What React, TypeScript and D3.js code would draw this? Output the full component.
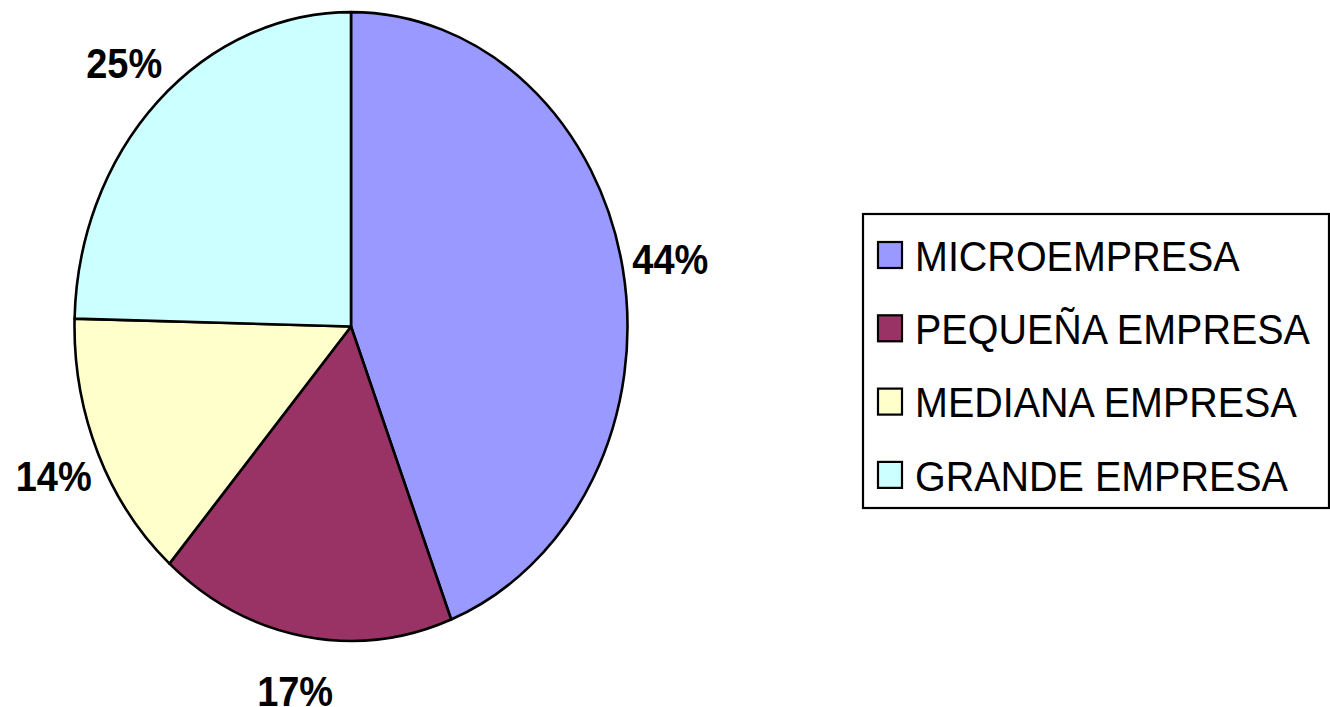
import React from "react";
import * as d3 from "d3";

const categories = ["MICROEMPRESA", "PEQUEÑA EMPRESA", "MEDIANA EMPRESA", "GRANDE EMPRESA"];
// shares read from the slice boundaries; labels show them rounded
const shares = [44.1, 17.3, 14.0, 24.6];
const sliceColors = ["#9999FF", "#993366", "#FFFFCC", "#CCFFFF"];

const W = 1330;
const H = 707;
const cx = 351;
const cy = 326.5;
const rx = 276.5; // horizontal radius
const sy = 1.137; // vertical stretch of the pie
const labelFont = 38;
const legendFont = 39.5;
const FONT = "Arial, 'Liberation Sans', sans-serif";

function App() {
  const pie = d3
    .pie<number>()
    .sort(null)
    .value((d) => d);
  const arcs = pie(shares);

  const arc = d3.arc<d3.PieArcDatum<number>>().innerRadius(0).outerRadius(rx);
  const labelArc = d3
    .arc<d3.PieArcDatum<number>>()
    .innerRadius(rx * 1.175)
    .outerRadius(rx * 1.175);

  // legend rows
  const legendBox = { x: 863, y: 214, w: 466, h: 294 };
  const rowY = d3
    .scalePoint<string>()
    .domain(categories)
    .range([255, 255 + 73.3 * 3]);

  const capH = labelFont * 0.716 * sy;

  return (
    <svg
      width={W}
      height={H}
      style={{ position: "absolute", left: 0, top: 0, background: "#fff" }}
    >
      <g transform={`translate(${cx},${cy}) scale(1,${sy})`}>
        {arcs.map((a, i) => (
          <path
            key={i}
            d={arc(a) || ""}
            fill={sliceColors[i]}
            stroke="#000"
            strokeWidth={2.6}
            strokeLinejoin="round"
            vectorEffect="non-scaling-stroke"
          />
        ))}
      </g>

      {arcs.map((a, i) => {
        const [lx, ly] = labelArc.centroid(a);
        const x = cx + lx;
        const y = cy + ly * sy + capH / 2;
        return (
          <text
            key={i}
            transform={`translate(${x},${y}) scale(1,${sy})`}
            textAnchor="middle"
            fontFamily={FONT}
            fontWeight="bold"
            fontSize={labelFont}
            fill="#000"
          >
            {Math.round(shares[i])}%
          </text>
        );
      })}

      <rect
        x={legendBox.x}
        y={legendBox.y}
        width={legendBox.w}
        height={legendBox.h}
        fill="#fff"
        stroke="#000"
        strokeWidth={2.2}
      />
      {categories.map((c, i) => {
        const yc = rowY(c) as number;
        return (
          <g key={c}>
            <rect
              x={878}
              y={yc - 13}
              width={24}
              height={26}
              fill={sliceColors[i]}
              stroke="#000"
              strokeWidth={2.2}
            />
            <text
              transform={`translate(915,${yc + 15.8}) scale(1,1.09)`}
              fontFamily={FONT}
              fontSize={legendFont}
              fill="#000"
            >
              {c}
            </text>
          </g>
        );
      })}
    </svg>
  );
}

export default App;
